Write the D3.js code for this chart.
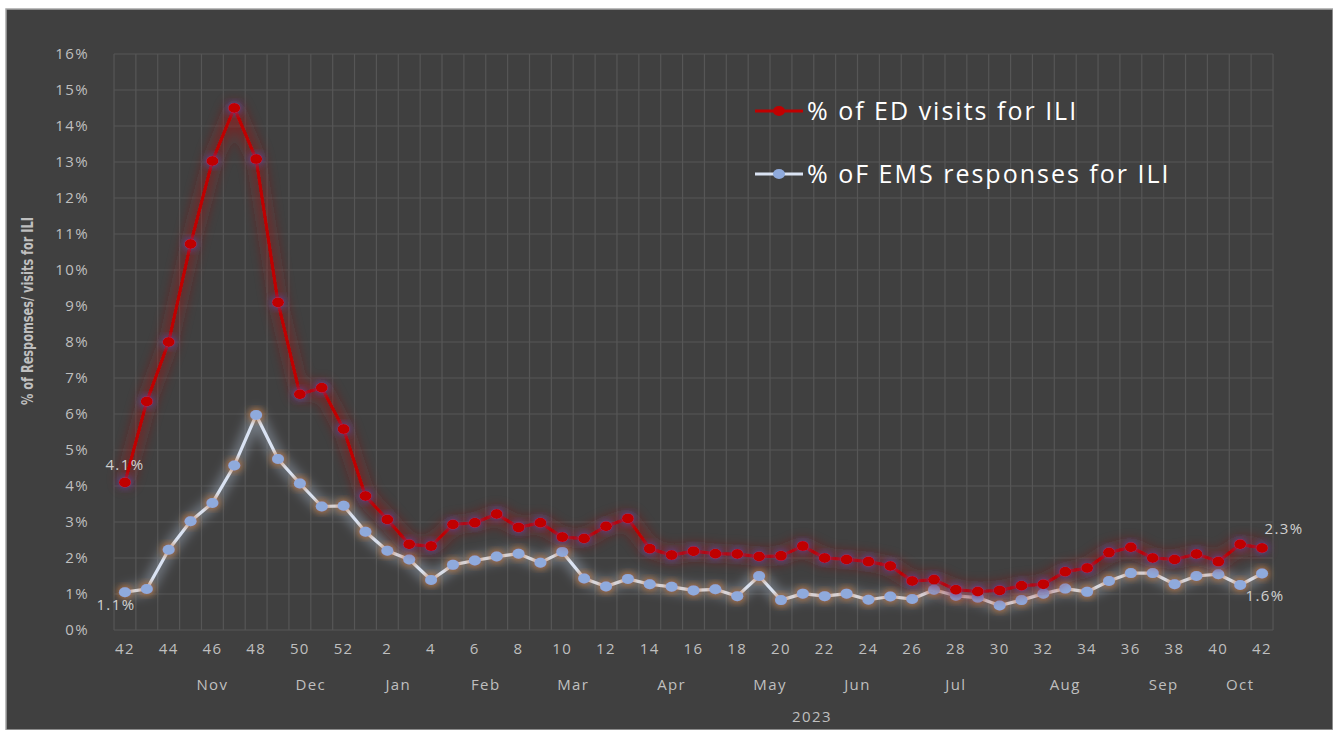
<!DOCTYPE html>
<html>
<head>
<meta charset="UTF-8">
<title>ILI ED visits and EMS responses</title>
<script src="https://cdn.jsdelivr.net/npm/d3@7"></script>
<style>
  html, body { margin: 0; padding: 0; background: #ffffff; }
  svg text { font-family: "Open Sans", "Noto Sans", sans-serif; }
  .lbl { font-size: 15px; letter-spacing: 1.4px; fill: #bfbfbf; }
</style>
</head>
<body>
<svg id="chart" width="1333" height="730"></svg>
<script>
// ---- data ----
var weeks = [42,43,44,45,46,47,48,49,50,51,52,
  1,2,3,4,5,6,7,8,9,10,11,12,13,14,15,16,17,18,19,20,
  21,22,23,24,25,26,27,28,29,30,31,32,33,34,35,36,37,38,39,40,41,42];

var edVisits = [4.1,6.35,8.0,10.72,13.03,14.5,13.08,9.1,6.55,6.73,5.58,
  3.72,3.07,2.38,2.33,2.93,2.98,3.22,2.85,2.98,2.58,2.54,2.88,3.1,
  2.26,2.08,2.19,2.12,2.11,2.04,2.06,2.33,2.0,1.96,1.9,1.78,
  1.36,1.4,1.12,1.07,1.1,1.23,1.27,1.62,1.72,2.15,2.3,2.0,1.96,2.11,1.9,2.38,2.28];

var emsResponses = [1.05,1.14,2.23,3.02,3.53,4.57,5.97,4.75,4.07,3.43,3.45,
  2.73,2.2,1.96,1.39,1.81,1.93,2.04,2.12,1.87,2.17,1.43,1.21,1.42,
  1.27,1.2,1.1,1.13,0.94,1.5,0.83,1.01,0.94,1.01,0.84,0.93,
  0.86,1.12,0.95,0.9,0.68,0.83,1.01,1.15,1.06,1.36,1.58,1.58,1.27,1.5,1.55,1.25,1.57];

var yTicks = [0,1,2,3,4,5,6,7,8,9,10,11,12,13,14,15,16];

var monthNames = ["", "Nov", "Dec", "Jan", "Feb", "Mar", "Apr", "May", "Jun", "Jul", "Aug", "Sep", "Oct"];
var monthWeeks = [2, 5, 4, 4, 4, 4, 5, 4, 4, 5, 5, 4, 3];
var yearLabel = "2023";

var seriesNames = ["% of ED visits for ILI", "% oF EMS responses for ILI"];

// ---- layout ----
var svg = d3.select("#chart");
var W = 1333, H = 730;
var plotLeft = 114, plotRight = 1273, plotTop = 54, plotBottom = 630;

var defs = svg.append("defs");
function glow(id, color, dev, opacity, spread) {
  var f = defs.append("filter").attr("id", id)
    .attr("x", "-50%").attr("y", "-50%").attr("width", "200%").attr("height", "200%");
  f.append("feMorphology").attr("in", "SourceAlpha").attr("operator", "dilate").attr("radius", spread).attr("result", "d");
  f.append("feGaussianBlur").attr("in", "d").attr("stdDeviation", dev).attr("result", "b");
  f.append("feFlood").attr("flood-color", color).attr("flood-opacity", opacity);
  f.append("feComposite").attr("in2", "b").attr("operator", "in").attr("result", "g");
  var m = f.append("feMerge");
  m.append("feMergeNode").attr("in", "g");
  m.append("feMergeNode").attr("in", "SourceGraphic");
}
glow("glowRed", "#951c1c", 7, 0.75, 3);
glow("glowGrey", "#9aa6b6", 6, 0.6, 3);
glow("glowBlue", "#5a4aa8", 3.5, 0.75, 1);
glow("glowOrange", "#c87532", 3.5, 0.85, 1);

// outer frame
svg.append("rect").attr("x", 6).attr("y", 9).attr("width", W - 6).attr("height", H - 9)
  .attr("fill", "#404040").attr("stroke", "#a6a6a6").attr("stroke-width", 1.5);

var x = d3.scaleBand().domain(d3.range(weeks.length)).range([plotLeft, plotRight]).padding(0);
var bw = x.bandwidth();
var y = d3.scaleLinear().domain([0, 16]).range([plotBottom, plotTop]);
function cx(i) { return x(i) + bw / 2; }

// grid
var grid = svg.append("g").attr("stroke", "#565656").attr("stroke-width", 1.2);
grid.selectAll("line.h").data(yTicks).enter().append("line")
  .attr("x1", plotLeft).attr("x2", plotRight)
  .attr("y1", function (d) { return y(d); }).attr("y2", function (d) { return y(d); });
grid.selectAll("line.v").data(d3.range(weeks.length + 1)).enter().append("line")
  .attr("y1", plotTop).attr("y2", plotBottom)
  .attr("x1", function (d) { return plotLeft + d * bw; }).attr("x2", function (d) { return plotLeft + d * bw; });

// y axis
var yAxis = svg.append("g").attr("transform", "translate(" + (plotLeft - 22) + ",0)")
  .call(d3.axisLeft(y).tickValues(yTicks).tickSize(0).tickFormat(function (d) { return d + "%"; }));
yAxis.select(".domain").remove();
yAxis.selectAll("text").attr("class", "lbl").attr("fill", null);

svg.append("text")
  .attr("transform", "translate(33,311) rotate(-90)")
  .attr("text-anchor", "middle")
  .attr("fill", "#bfbfbf")
  .attr("textLength", 188).attr("lengthAdjust", "spacingAndGlyphs")
  .style("font-family", "'Liberation Sans Narrow', 'DejaVu Sans Condensed', sans-serif")
  .style("font-size", "15.5px").style("font-weight", "bold")
  .text("% of Respomses/ visits for ILI");

// x axis (weeks)
var xAxis = svg.append("g").attr("transform", "translate(0," + (plotBottom + 10) + ")")
  .call(d3.axisBottom(x)
    .tickValues(d3.range(0, weeks.length, 2))
    .tickSize(0)
    .tickFormat(function (i) { return weeks[i]; }));
xAxis.select(".domain").remove();
xAxis.selectAll("text").attr("class", "lbl").attr("fill", null);

// month labels
var start = 0;
var months = monthNames.map(function (m, k) {
  var o = { name: m, start: start, n: monthWeeks[k] };
  start += monthWeeks[k];
  return o;
});
svg.append("g").selectAll("text").data(months).enter().append("text")
  .attr("class", "lbl")
  .attr("x", function (d) { return x(d.start) + d.n * bw / 2; })
  .attr("y", 690)
  .attr("text-anchor", "middle")
  .text(function (d) { return d.name; });

svg.append("text").attr("class", "lbl").attr("x", 812).attr("y", 722)
  .attr("text-anchor", "middle")
  .text(yearLabel);

// series
var line = d3.line().x(function (d, i) { return cx(i); }).y(function (d) { return y(d); });

function drawSeries(values, lineColor, markColor, lineGlow, markGlow) {
  var g = svg.append("g");
  g.append("path").datum(values)
    .attr("d", line).attr("fill", "none")
    .attr("stroke", lineColor).attr("stroke-width", 3.2)
    .attr("stroke-linejoin", "round")
    .attr("filter", "url(#" + lineGlow + ")");
  g.selectAll("ellipse").data(values).enter().append("ellipse")
    .attr("cx", function (d, i) { return cx(i); })
    .attr("cy", function (d) { return y(d); })
    .attr("rx", 6).attr("ry", 5)
    .attr("fill", markColor)
    .attr("filter", "url(#" + markGlow + ")");
}
drawSeries(emsResponses, "#dae3f3", "#8faadc", "glowGrey", "glowOrange");
drawSeries(edVisits, "#c00000", "#c00000", "glowRed", "glowBlue");

// data labels
var last = weeks.length - 1;
var labels = [
  { v: edVisits[0], i: 0, dx: 0, dy: -12 },
  { v: emsResponses[0], i: 0, dx: -9, dy: 18 },
  { v: edVisits[last], i: last, dx: 22, dy: -14 },
  { v: emsResponses[last], i: last, dx: 3, dy: 28 }
];
svg.append("g").selectAll("text").data(labels).enter().append("text")
  .attr("class", "lbl")
  .attr("x", function (d) { return cx(d.i) + d.dx; })
  .attr("y", function (d) { return y(d.v) + d.dy; })
  .attr("text-anchor", "middle")
  .style("fill", "#d0d0d0")
  .text(function (d) { return d.v.toFixed(1) + "%"; });

// legend
var legend = svg.append("g").attr("transform", "translate(755,111)");
var legendItems = [
  { name: seriesNames[0], line: "#c00000", mark: "#c00000" },
  { name: seriesNames[1], line: "#dae3f3", mark: "#8faadc" }
];
var li = legend.selectAll("g").data(legendItems).enter().append("g")
  .attr("transform", function (d, k) { return "translate(0," + (k * 63) + ")"; });
li.append("line").attr("x1", 0).attr("x2", 48).attr("y1", 0).attr("y2", 0)
  .attr("stroke", function (d) { return d.line; }).attr("stroke-width", 3);
li.append("ellipse").attr("cx", 24).attr("cy", 0).attr("rx", 6).attr("ry", 5)
  .attr("fill", function (d) { return d.mark; });
li.append("text").attr("x", 52).attr("y", 9)
  .attr("fill", "#ffffff").style("font-size", "25px").style("letter-spacing", "2px")
  .text(function (d) { return d.name; });
</script>
</body>
</html>
